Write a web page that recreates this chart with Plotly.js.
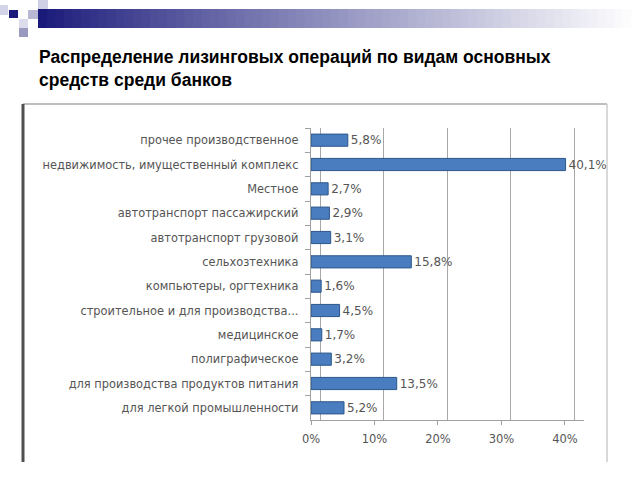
<!DOCTYPE html>
<html>
<head>
<meta charset="utf-8">
<script src="https://cdn.plot.ly/plotly-3.0.1.min.js"></script>
<style>html,body{margin:0;padding:0;background:#fff;}#chart{width:640px;height:480px;}</style>
</head>
<body>
<div id="chart"></div>
<script>
var categories = [
  "прочее производственное",
  "недвижимость, имущественный комплекс",
  "Местное",
  "автотранспорт пассажирский",
  "автотранспорт грузовой",
  "сельхозтехника",
  "компьютеры, оргтехника",
  "строительное и для производства...",
  "медицинское",
  "полиграфическое",
  "для производства продуктов питания",
  "для легкой промышленности"
];
var values = [5.8, 40.1, 2.7, 2.9, 3.1, 15.8, 1.6, 4.5, 1.7, 3.2, 13.5, 5.2];
var tickValues = [0, 10, 20, 30, 40];
var titleLines = ["Распределение лизинговых операций по видам основных", "средств среди банков"];

var W = 640, H = 480;
var M = {l: 311, r: 56, t: 128, b: 60};
var PW = W - M.l - M.r, PH = H - M.t - M.b;
function px(x) { return (x - M.l) / PW; }
function py(y) { return (H - M.b - y) / PH; }

var shapes = [];
// header gradient bar
var g0 = [26, 26, 122], g1 = [255, 255, 255];
var steps = 70, x0 = 38, x1 = 640;
for (var i = 0; i < steps; i++) {
  var t = Math.pow(i / (steps - 1), 0.9);
  var c = g0.map(function (v, k) { return Math.round(v + (g1[k] - v) * t); });
  shapes.push({type: 'rect', xref: 'paper', yref: 'paper',
    x0: px(x0 + (x1 - x0) * i / steps), x1: px(x0 + (x1 - x0) * (i + 1) / steps + 1),
    y0: py(28), y1: py(9), line: {width: 0}, fillcolor: 'rgb(' + c.join(',') + ')', layer: 'below'});
}
// decorative squares
var sq = [
  [0, 5, 8, 15, '#d4d4e8'],
  [9, 10, 18, 18, '#1a1a7a'],
  [28, 10, 38, 19, '#b8b8d4'],
  [38, 0, 48, 9, '#cfcfe6'],
  [19, 19, 28, 28, '#dcdcec'],
  [19, 28, 28, 37, '#9a9ac0']
];
sq.forEach(function (s) {
  shapes.push({type: 'rect', xref: 'paper', yref: 'paper', x0: px(s[0]), x1: px(s[2]), y0: py(s[3]), y1: py(s[1]),
    line: {width: 0}, fillcolor: s[4], layer: 'below'});
});
// chart frame
shapes.push({type: 'line', xref: 'paper', yref: 'paper', x0: px(23), x1: px(607), y0: py(104), y1: py(104), line: {color: '#a8a8a8', width: 1.5}});
shapes.push({type: 'line', xref: 'paper', yref: 'paper', x0: px(23), x1: px(23), y0: py(104), y1: py(462), line: {color: '#505050', width: 3}});
shapes.push({type: 'line', xref: 'paper', yref: 'paper', x0: px(607), x1: px(607), y0: py(104), y1: py(462), line: {color: '#c0c0c0', width: 1.2}});

var annotations = [{
  xref: 'paper', yref: 'paper', x: px(37), y: py(45), xanchor: 'left', yanchor: 'top', align: 'left',
  showarrow: false, text: titleLines.map(function (s) { return '<b>' + s + '</b>'; }).join('<br>'),
  font: {family: 'Liberation Sans, Arial', size: 17.5, color: '#000'}
}];

var data = [{
  type: 'bar', orientation: 'h', x: values, y: categories,
  width: 0.5,
  marker: {color: '#4a7dbf', line: {color: '#2c5789', width: 1}},
  text: values.map(function (v) { return v.toFixed(1).replace('.', ',') + '%'; }),
  textposition: 'outside', cliponaxis: false, constraintext: 'none',
  textfont: {family: 'DejaVu Sans, Verdana', size: 12, color: '#555'},
  hoverinfo: 'none', showlegend: false
}, {
  type: 'scatter', x: [], y: [], xaxis: 'x2', showlegend: false, hoverinfo: 'none'
}];

var layout = {
  width: W, height: H, margin: M,
  paper_bgcolor: '#fff', plot_bgcolor: 'rgba(0,0,0,0)',
  separators: ',.',
  showlegend: false,
  xaxis: {range: [0, 43], tickvals: tickValues, ticktext: tickValues.map(function (v) { return v + '%'; }),
    showgrid: false, zeroline: false, showline: true, linecolor: '#a0a0a0', linewidth: 1,
    ticks: 'outside', ticklen: 4, tickcolor: '#a0a0a0', ticklabelstandoff: 4,
    tickfont: {family: 'DejaVu Sans, Verdana', size: 11.5, color: '#555'}, fixedrange: true},
  xaxis2: {overlaying: 'x', range: [-1.45, 41.55], tickvals: tickValues, showticklabels: false,
    showgrid: true, gridcolor: '#a8a8a8', gridwidth: 1.3, zeroline: false, showline: false, ticks: ''},
  yaxis: {autorange: 'reversed', showline: true, linecolor: '#a0a0a0', linewidth: 1.3,
    ticks: 'outside', tickson: 'boundaries', ticklen: 5, tickcolor: '#a0a0a0',
    showgrid: false, zeroline: false, ticklabelstandoff: 9,
    tickfont: {family: 'DejaVu Sans, Verdana', size: 11.4, color: '#555'}},
  shapes: shapes,
  annotations: annotations
};

Plotly.newPlot('chart', data, layout, {displayModeBar: false, staticPlot: true});
</script>
</body>
</html>
